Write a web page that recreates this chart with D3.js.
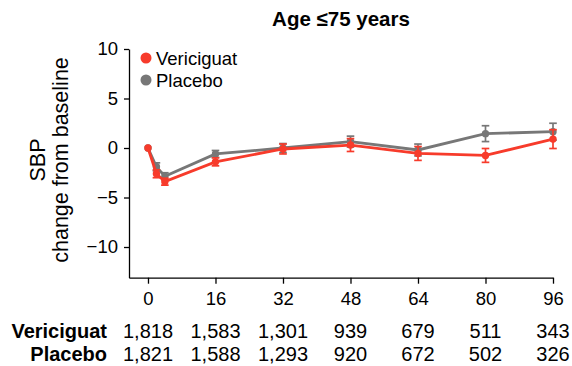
<!DOCTYPE html>
<html>
<head>
<meta charset="utf-8">
<script src="https://cdn.jsdelivr.net/npm/d3@7/dist/d3.min.js"></script>
<style>
  html, body { margin: 0; padding: 0; background: #fff; }
  svg { display: block; font-family: "Liberation Sans", Arial, sans-serif; }
</style>
</head>
<body>
<svg id="chart" width="572" height="366"></svg>
<script>
// Study weeks and mean SBP change (mmHg) with error bars
const weeks = [0, 2, 4, 16, 32, 48, 64, 80, 96];
const vericiguat = [0, -2.6, -3.4, -1.4, -0.1, 0.3, -0.55, -0.75, 0.9];
const vericiguatErr = [0, 0.4, 0.35, 0.4, 0.5, 0.65, 0.7, 0.7, 0.95];
const placebo = [0, -1.9, -2.85, -0.6, 0.0, 0.65, -0.2, 1.45, 1.65];
const placeboErr = [0, 0.4, 0.35, 0.35, 0.45, 0.55, 0.6, 0.8, 0.85];

const xTicks = [0, 16, 32, 48, 64, 80, 96];
const yTicks = [-10, -5, 0, 5, 10];
const atRiskVericiguat = ["1,818", "1,583", "1,301", "939", "679", "511", "343"];
const atRiskPlacebo = ["1,821", "1,588", "1,293", "920", "672", "502", "326"];

const seriesNames = ["Vericiguat", "Placebo"];
const seriesColors = ["#f73b2b", "#777777"];

const svg = d3.select("#chart");
const fontSize = 18;
const tableFont = 20;

const x = d3.scaleLinear().domain([-4.5, 96]).range([129, 553]);
const y = d3.scaleLinear().domain([-13.1, 10]).range([277.7, 49]);

// Title
svg.append("text")
  .attr("x", 341).attr("y", 26)
  .attr("text-anchor", "middle")
  .attr("font-size", 20.5).attr("font-weight", "bold")
  .text("Age \u226475 years");

// Axes
const yAxis = svg.append("g")
  .attr("transform", `translate(${x.range()[0]},0)`)
  .call(d3.axisLeft(y).tickValues(yTicks).tickSizeInner(5).tickSizeOuter(0).tickPadding(6)
    .tickFormat(d => d < 0 ? "\u2212" + Math.abs(d) : d));
const xAxis = svg.append("g")
  .attr("transform", `translate(0,${y.range()[0]})`)
  .call(d3.axisBottom(x).tickValues(xTicks).tickSizeInner(6).tickSizeOuter(0).tickPadding(8));

[yAxis, xAxis].forEach(g => {
  g.selectAll("path, line").attr("stroke", "#000").attr("stroke-width", 1.3);
  g.selectAll("text").attr("font-size", fontSize + 0.5).attr("fill", "#000")
    .attr("font-family", "'Liberation Sans', Arial, sans-serif");
});

// Y axis title
const yTitle = svg.append("text")
  .attr("transform", "translate(0,160) rotate(-90)")
  .attr("text-anchor", "middle")
  .attr("font-size", 21.5);
yTitle.append("tspan").attr("x", 0).attr("y", 45).text("SBP");
yTitle.append("tspan").attr("x", 0).attr("y", 68).text("change from baseline");

// Series: placebo drawn first, vericiguat on top
const series = [
  { name: seriesNames[1], color: seriesColors[1], vals: placebo, err: placeboErr },
  { name: seriesNames[0], color: seriesColors[0], vals: vericiguat, err: vericiguatErr }
];

const line = d3.line().x(d => x(d.w)).y(d => y(d.v));

series.forEach(s => {
  const pts = weeks.map((w, i) => ({ w, v: s.vals[i], e: s.err[i] }));
  const g = svg.append("g");
  g.append("path")
    .datum(pts)
    .attr("d", line)
    .attr("fill", "none")
    .attr("stroke", s.color)
    .attr("stroke-width", 2.8);
  const eb = g.selectAll(".eb").data(pts.filter(p => p.e > 0)).enter().append("g");
  eb.append("line")
    .attr("x1", d => x(d.w)).attr("x2", d => x(d.w))
    .attr("y1", d => y(d.v - d.e)).attr("y2", d => y(d.v + d.e))
    .attr("stroke", s.color).attr("stroke-width", 1.7);
  [-1, 1].forEach(sign => {
    eb.append("line")
      .attr("x1", d => x(d.w) - 3.8).attr("x2", d => x(d.w) + 3.8)
      .attr("y1", d => y(d.v + sign * d.e)).attr("y2", d => y(d.v + sign * d.e))
      .attr("stroke", s.color).attr("stroke-width", 1.7);
  });
  g.selectAll(".pt").data(pts).enter().append("circle")
    .attr("cx", d => x(d.w)).attr("cy", d => y(d.v))
    .attr("r", 3.7).attr("fill", s.color);
});

// Legend
seriesNames.forEach((name, i) => {
  const ly = 58 + i * 22;
  svg.append("circle").attr("cx", 146).attr("cy", ly).attr("r", 5.5).attr("fill", seriesColors[i]);
  svg.append("text").attr("x", 156).attr("y", ly + 6.5)
    .attr("font-size", fontSize + 0.5).text(name);
});

// Numbers at risk
const rows = [
  { label: seriesNames[0], vals: atRiskVericiguat, y: 338 },
  { label: seriesNames[1], vals: atRiskPlacebo, y: 361 }
];
rows.forEach(r => {
  svg.append("text").attr("x", 107).attr("y", r.y)
    .attr("text-anchor", "end").attr("font-size", tableFont).attr("font-weight", "bold")
    .text(r.label);
  r.vals.forEach((v, i) => {
    svg.append("text").attr("x", x(xTicks[i])).attr("y", r.y)
      .attr("text-anchor", "middle").attr("font-size", tableFont)
      .text(v);
  });
});
</script>
</body>
</html>
